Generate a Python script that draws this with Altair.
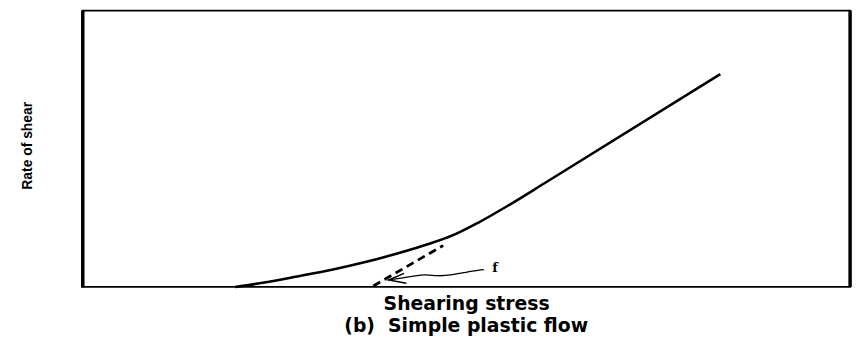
import altair as alt
import pandas as pd

# Main flow curve (shearing stress vs rate of shear), frame units 0-100
curve_x = [19.9, 23.7, 28.0, 32.5, 36.6, 40.9, 45.2, 48.6, 51.6, 55.5, 60.3, 83.1]
curve_y = [0.0, 1.6, 3.8, 6.2, 8.8, 12.0, 15.6, 19.1, 23.3, 29.5, 37.7, 77.0]

# Dashed extrapolation of the linear part down to the stress axis (yield value f)
dash_x = [37.9, 47.0]
dash_y = [0.35, 15.0]

# Wavy pointer from label "f" to the intercept
arrow_x = [52.3, 49.9, 48.0, 46.1, 44.8, 43.1, 41.5, 39.9]
arrow_y = [6.3, 5.3, 4.2, 3.9, 4.6, 3.9, 3.2, 2.5]
barb_x = [41.9, 39.9, 42.2]
barb_y = [4.9, 2.5, 1.3]

label_f_x = [53.4]
label_f_y = [7.0]
label_f = ["f"]

# frame edge on the right side of the plot
frame_right = [100]
frame_lo = [0]
frame_hi = [100]

curve = pd.DataFrame({"x": curve_x, "y": curve_y, "o": range(len(curve_x))})
dash = pd.DataFrame({"x": dash_x, "y": dash_y, "o": range(len(dash_x))})
arrow = pd.DataFrame({"x": arrow_x, "y": arrow_y, "o": range(len(arrow_x))})
barb = pd.DataFrame({"x": barb_x, "y": barb_y, "o": range(len(barb_x))})
flab = pd.DataFrame({"x": label_f_x, "y": label_f_y, "t": label_f})
frame = pd.DataFrame({"x": frame_right, "y": frame_lo, "y2": frame_hi})

xs = alt.Scale(domain=[0, 100], nice=False, zero=False)
ys = alt.Scale(domain=[0, 100], nice=False, zero=False)

X = alt.X(
    "x:Q",
    scale=xs,
    axis=alt.Axis(
        title="Shearing stress",
        ticks=False,
        labels=False,
        grid=False,
        domain=False,
        titleFont="DejaVu Sans",
        titleFontSize=19,
        titleFontWeight="bold",
        titleColor="black",
        titlePadding=8,
    ),
)
Y = alt.Y(
    "y:Q",
    scale=ys,
    axis=alt.Axis(
        title="Rate of shear",
        ticks=False,
        labels=False,
        grid=False,
        domain=True,
        domainColor="black",
        domainWidth=3.5,
        titleFont="Liberation Sans",
        titleFontSize=14,
        titleFontWeight="bold",
        titleColor="black",
        titlePadding=48,
        titleY=136,
    ),
)
Xp = alt.X("x:Q", scale=xs)
Yp = alt.Y("y:Q", scale=ys)

curve_layer = alt.Chart(curve).mark_line(
    color="black", strokeWidth=2.6, interpolate="monotone"
).encode(x=X, y=Y, order="o:Q")

dash_layer = alt.Chart(dash).mark_line(
    color="black", strokeWidth=2.8, strokeDash=[8, 5]
).encode(x=Xp, y=Yp, order="o:Q")

arrow_layer = alt.Chart(arrow).mark_line(
    color="black", strokeWidth=1.3, interpolate="basis"
).encode(x=Xp, y=Yp, order="o:Q")

barb_layer = alt.Chart(barb).mark_line(
    color="black", strokeWidth=1.5
).encode(x=Xp, y=Yp, order="o:Q")

f_layer = alt.Chart(flab).mark_text(
    align="left", baseline="middle", font="DejaVu Serif", fontSize=13,
    fontWeight="bold", color="black"
).encode(x=Xp, y=Yp, text="t:N")

frame_layer = alt.Chart(frame).mark_rule(
    color="black", strokeWidth=3.5
).encode(x=Xp, y=Yp, y2="y2:Q")

chart = (
    alt.layer(curve_layer, dash_layer, arrow_layer, barb_layer, f_layer, frame_layer)
    .properties(
        width=775,
        height=279,
        autosize=alt.AutoSizeParams(type="none"),
        padding={"left": 75, "top": 1, "right": 10, "bottom": 52},
        background="white",
        title=alt.TitleParams(
            "(b)\u00a0\u00a0Simple plastic flow",
            orient="bottom",
            anchor="middle",
            font="DejaVu Sans",
            fontSize=19,
            fontWeight="bold",
            color="black",
            offset=3,
        ),
    )
    .configure_view(stroke="black", strokeWidth=1.8)
)

chart.save("out.html", embed_options={"renderer": "svg", "actions": False})
